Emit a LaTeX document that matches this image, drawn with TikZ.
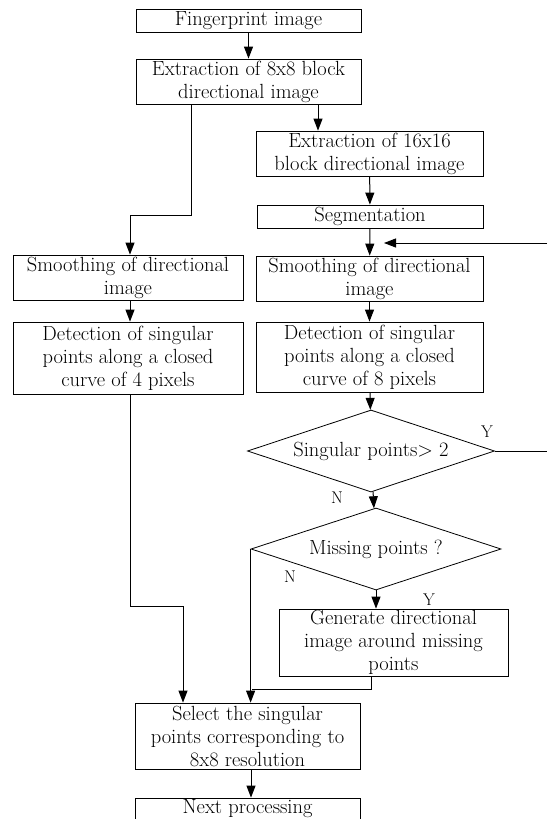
\documentclass[tikz,border=0pt]{standalone}
\usetikzlibrary{arrows.meta,shapes.geometric}
\begin{document}
\begin{tikzpicture}[x=1pt,y=-1pt,
  box/.style={draw, line width=0.8pt, inner sep=0pt, align=center,
    font=\fontsize{20.5}{23}\selectfont},
  decision/.style={diamond, shape aspect=3, draw, line width=0.8pt, inner sep=0pt, align=center,
    font=\fontsize{20.5}{23}\selectfont},
  arr/.style={line width=1pt, -{Triangle[length=12pt,width=9pt]}},
  conn/.style={line width=1pt},
  lab/.style={font=\fontsize{17}{20}\selectfont, inner sep=0pt}]
\useasboundingbox (0,0) rectangle (547,819);
\clip (0,0) rectangle (547,819);
% boxes
\node[box, minimum width=225pt, minimum height=23pt] (fp) at (248.5,20.5) {Fingerprint image};
\node[box, minimum width=225pt, minimum height=45pt] (ex8) at (248.5,81.5) {Extraction of 8x8 block\\directional image};
\node[box, minimum width=227pt, minimum height=45pt] (ex16) at (369.5,153.5) {Extraction of 16x16\\block directional image};
\node[box, minimum width=226pt, minimum height=23pt] (seg) at (370,216.5) {Segmentation};
\node[box, minimum width=227pt, minimum height=45pt] (smR) at (369.5,278.5) {Smoothing of directional\\image};
\node[box, minimum width=227pt, minimum height=70pt] (detR) at (369.5,357) {Detection of singular\\points along a closed\\curve of 8 pixels};
\node[box, minimum width=230pt, minimum height=45pt] (smL) at (128,277.5) {Smoothing of directional\\image};
\node[box, minimum width=230pt, minimum height=72pt] (detL) at (128,358) {Detection of singular\\points along a closed\\curve of 4 pixels};
\node[decision, minimum width=247pt, minimum height=82pt] (d1) at (371,451) {Singular points> 2};
\node[decision, minimum width=250pt, minimum height=82pt] (d2) at (376,549) {Missing points ?};
\node[box, minimum width=229pt, minimum height=67pt] (gen) at (393.5,642.5) {Generate directional\\image around missing\\points};
\node[box, minimum width=225pt, minimum height=66pt] (sel) at (247.5,736) {Select the singular\\points corresponding to\\8x8 resolution};
\node[box, minimum width=225pt, minimum height=22pt] (next) at (247.5,809) {Next processing};
% labels
\node[lab] (y1) at (487,432) {Y};
\node[lab] (n1) at (337,498) {N};
\node[lab] (n2) at (290,577) {N};
\node[lab] (y2) at (429,600) {Y};
% free ends
\coordinate (fbR) at (547,243);
\coordinate (fbT) at (384,243);
\coordinate (yR) at (547,451);
\coordinate (j) at (252,689);
% connectors
\draw[arr] (fp) -- (ex8);
\draw[arr] ([xshift=69.5pt]ex8.south) -- ([xshift=-51.5pt]ex16.north);
\draw[arr] (ex16) -- (seg);
\draw[arr] (seg) -- (smR);
\draw[arr] (fbR) -- (fbT);
\draw[arr] (smR) -- (detR);
\draw[arr] (detR) -- (d1);
\draw[arr] (d1) -- (d2);
\draw[conn] (d1.east) -- (yR);
\draw[arr] (d2.south) -- (d2.south |- gen.north);
\draw[arr] (d2.west) -- (d2.west |- sel.north);
\draw[conn] ([xshift=-22.5pt]gen.south) |- (j);
\draw[arr] ([xshift=-57.5pt]ex8.south) -- ++(0,111) -| ([xshift=2pt]smL.north);
\draw[arr] ([xshift=2pt]smL.south) -- ([xshift=2pt]detL.north);
\draw[arr] ([xshift=2pt]detL.south) -- ++(0,212) -| ([xshift=-64.5pt]sel.north);
\draw[arr] ([xshift=3.5pt]sel.south) -- ([xshift=3.5pt]next.north);
\end{tikzpicture}
\end{document}
